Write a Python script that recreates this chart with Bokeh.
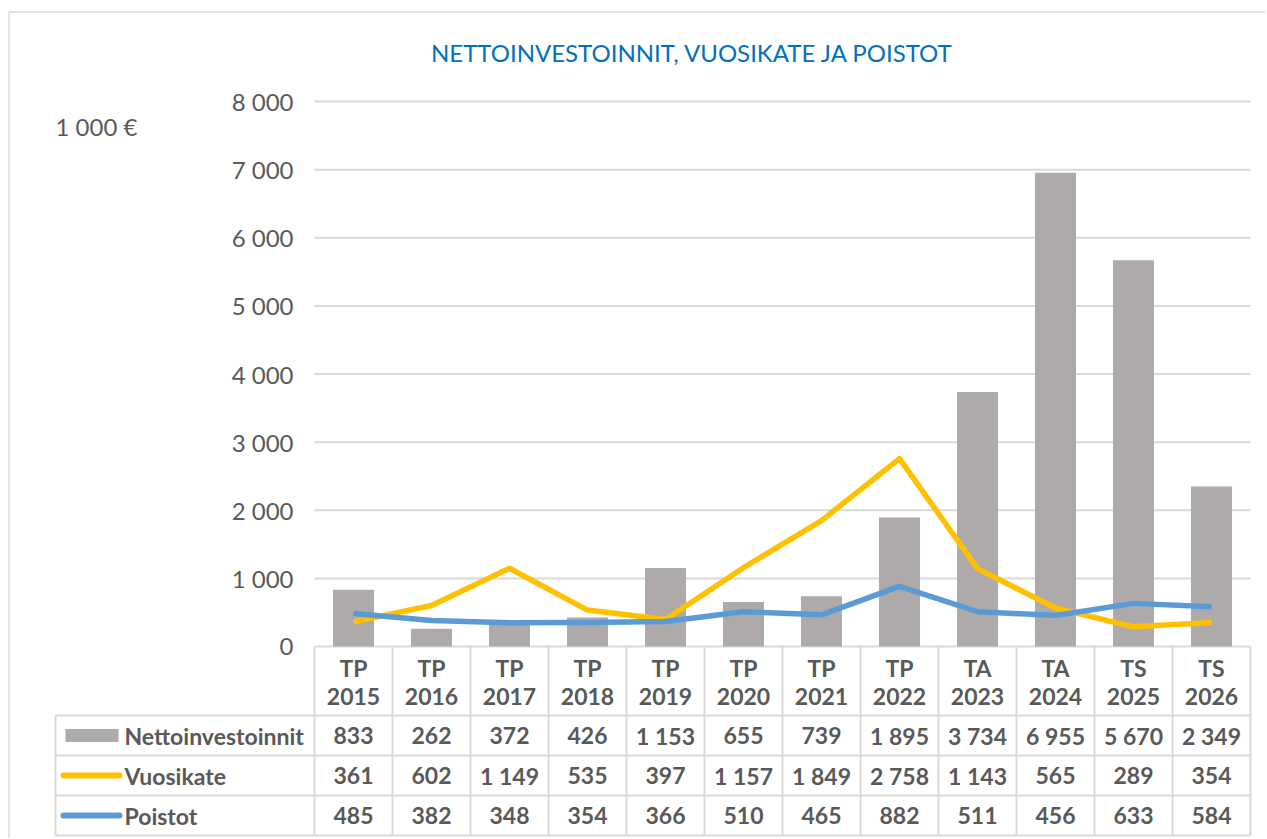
from bokeh.plotting import figure
from bokeh.models import Range1d
from bokeh.embed import file_html
from bokeh.resources import INLINE
from bokeh.core.properties import value

# ---------------- data ----------------
chart_title = "NETTOINVESTOINNIT, VUOSIKATE JA POISTOT"
unit_label = "1 000 €"
cat_prefix = ["TP", "TP", "TP", "TP", "TP", "TP", "TP", "TP", "TA", "TA", "TS", "TS"]
cat_year = ["2015", "2016", "2017", "2018", "2019", "2020", "2021", "2022",
            "2023", "2024", "2025", "2026"]
nettoinvestoinnit = [833, 262, 372, 426, 1153, 655, 739, 1895, 3734, 6955, 5670, 2349]
vuosikate = [361, 602, 1149, 535, 397, 1157, 1849, 2758, 1143, 565, 289, 354]
poistot = [485, 382, 348, 354, 366, 510, 465, 882, 511, 456, 633, 584]
series_names = ["Nettoinvestoinnit", "Vuosikate", "Poistot"]
y_ticks = [0, 1000, 2000, 3000, 4000, 5000, 6000, 7000, 8000]
y_tick_labels = ["0", "1 000", "2 000", "3 000", "4 000", "5 000", "6 000", "7 000", "8 000"]

# ---------------- layout ----------------
W, H = 1265, 838
PX0, PY0 = 0, 0
COL_L, COL_W = 314, 78
Y0 = 646
PPU = 545.0 / 8000.0
N = len(cat_year)

x_start = (PX0 - COL_L) / COL_W
x_end = (PX0 + W - COL_L) / COL_W
y_end = (Y0 - PY0) / PPU
y_start = (Y0 - (PY0 + H)) / PPU

BAR_C = "#AEAAAA"
YEL = "#FFC000"
BLU = "#5B9BD5"
TXT = "#595959"
GRID = "#D9D9D9"
FONT = value("Lato")

p = figure(width=W, height=H, x_range=Range1d(x_start, x_end),
           y_range=Range1d(y_start, y_end), x_axis_type=None, y_axis_type=None,
           toolbar_location=None, output_backend="svg", min_border=0)
p.outline_line_color = None
p.background_fill_color = "white"
p.border_fill_color = "white"
p.extra_x_ranges = {"px": Range1d(PX0, PX0 + W)}
p.extra_y_ranges = {"px": Range1d(PY0 + H, PY0)}

# chart border
p.quad(left=[8.5], right=[1400], top=[11.5], bottom=[1000], fill_color=None,
       line_color=GRID, line_width=1.3, x_range_name="px", y_range_name="px")

# title
p.text(x=[692], y=[52], text=[chart_title], text_font=FONT, text_font_size="24px",
       text_color="#0070C0", text_align="center", text_baseline="middle",
       x_range_name="px", y_range_name="px")
p.text(x=[55], y=[126], text=[unit_label], text_font=FONT, text_font_size="24px",
       text_color=TXT, text_align="left", text_baseline="middle",
       x_range_name="px", y_range_name="px")

# gridlines
p.segment(x0=[0] * len(y_ticks), x1=[N] * len(y_ticks), y0=y_ticks, y1=y_ticks,
          line_color=GRID, line_width=2)
# y tick labels
p.text(x=[293] * len(y_ticks), y=y_ticks, text=y_tick_labels, text_font=FONT,
       text_font_size="24px", text_color=TXT, text_align="right",
       text_baseline="middle", x_range_name="px")

centers = [i + 0.5 for i in range(N)]
p.vbar(x=centers, width=0.526, top=nettoinvestoinnit, bottom=0,
       fill_color=BAR_C, line_color=None)
p.line(x=centers, y=vuosikate, line_color=YEL, line_width=5.5, line_join="round")
p.line(x=centers, y=poistot, line_color=BLU, line_width=5.5, line_join="round")

# ---------------- data table ----------------
TAB_L = 55
HDR_T = 646
ROW_T = [715, 755, 795, 835]
right = COL_L + COL_W * N

xs_cols = [COL_L + COL_W * i for i in range(N + 1)]
p.segment(x0=xs_cols, x1=xs_cols, y0=[HDR_T] * len(xs_cols), y1=[ROW_T[-1]] * len(xs_cols),
          line_color=GRID, line_width=2, x_range_name="px", y_range_name="px")
p.segment(x0=[TAB_L], x1=[TAB_L], y0=[ROW_T[0]], y1=[ROW_T[-1]],
          line_color=GRID, line_width=2, x_range_name="px", y_range_name="px")
p.segment(x0=[TAB_L] * len(ROW_T), x1=[right] * len(ROW_T), y0=ROW_T, y1=ROW_T,
          line_color=GRID, line_width=2, x_range_name="px", y_range_name="px")

p.text(x=centers, y=[667] * N, text=cat_prefix, text_font=FONT, text_font_size="23px",
       text_font_style="bold", text_color=TXT, text_align="center",
       text_baseline="middle", y_range_name="px")
p.text(x=centers, y=[696] * N, text=cat_year, text_font=FONT, text_font_size="23px",
       text_font_style="bold", text_color=TXT, text_align="center",
       text_baseline="middle", y_range_name="px")

def fmt(v):
    return f"{v:,}".replace(",", " ")

row_c = [(ROW_T[i] + ROW_T[i + 1]) / 2 for i in range(3)]
for r, ser in enumerate([nettoinvestoinnit, vuosikate, poistot]):
    p.text(x=centers, y=[row_c[r]] * N, text=[fmt(v) for v in ser], text_font=FONT,
           text_font_size="23px", text_font_style="bold", text_color=TXT,
           text_align="center", text_baseline="middle", y_range_name="px")
    p.text(x=[124], y=[row_c[r]], text=[series_names[r]], text_font=FONT,
           text_font_size="23px", text_font_style="bold", text_color=TXT,
           text_align="left", text_baseline="middle",
           x_range_name="px", y_range_name="px")

p.quad(left=[65], right=[118], top=[row_c[0] - 6.5], bottom=[row_c[0] + 6.5],
       fill_color=BAR_C, line_color=None, x_range_name="px", y_range_name="px")
p.segment(x0=[63, 63], x1=[119, 119], y0=[row_c[1], row_c[2]], y1=[row_c[1], row_c[2]],
          line_color=[YEL, BLU], line_width=6, line_cap="round",
          x_range_name="px", y_range_name="px")

open("out.html", "w").write(file_html(p, INLINE))
